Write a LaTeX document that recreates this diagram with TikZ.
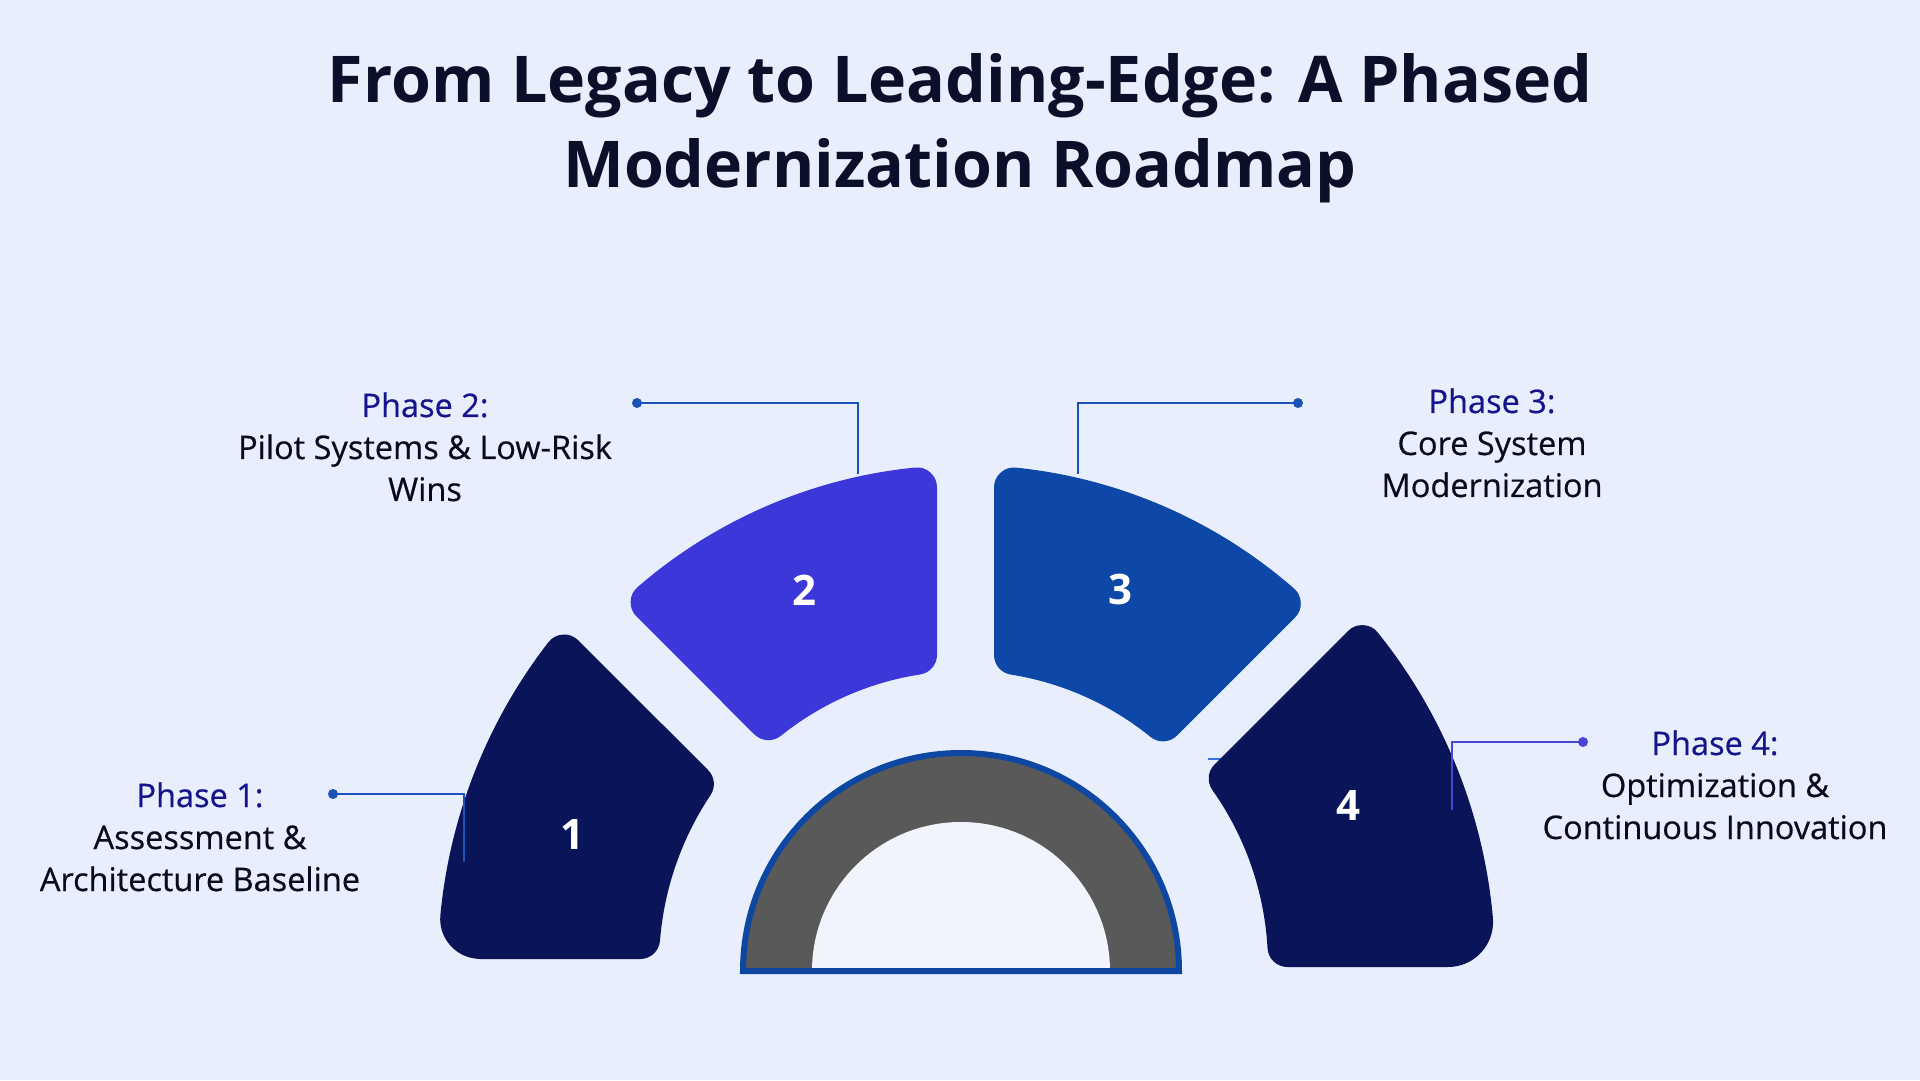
\documentclass[tikz,border=0pt]{standalone}
\usepackage{fontspec}
\setmainfont{Open Sans}
\newfontfamily\phasefont{Open Sans}[FakeBold=0.5]
\usepackage{tikz}
\definecolor{backdrop}{HTML}{E9EEFC}
\definecolor{titleink}{HTML}{0B0F2A}
\definecolor{phaseink}{HTML}{14148C}
\definecolor{bodyink}{HTML}{0A0A1C}
\definecolor{navyseg}{HTML}{0A1459}
\definecolor{violetseg}{HTML}{3C37D8}
\definecolor{blueseg}{HTML}{0D47A8}
\definecolor{gaugerim}{HTML}{0D47A1}
\definecolor{gaugegrey}{HTML}{595959}
\definecolor{gaugecore}{HTML}{F1F3FD}
\definecolor{linkblue}{HTML}{1A52B8}
\definecolor{linkviolet}{HTML}{4A44D8}
\definecolor{stubblue}{HTML}{3A6FE0}

\begin{document}
\begin{tikzpicture}
    [x=1pt, y=1pt,
    wedge/.style={line width=40pt, line join=round},
    digit/.style={text=white, font=\fontsize{42}{42}\selectfont\bfseries, inner sep=0pt},
    headline/.style={align=center, text=titleink, font=\fontsize{64.5}{85}\selectfont\bfseries,
    inner sep=0pt, anchor=base},
    phase/.style={align=center, text=bodyink, font=\phasefont\fontsize{32.5}{42}\selectfont,
    inner sep=0pt, anchor=base},
    endpoint/.style={circle, inner sep=0pt, minimum size=10pt},
    link/.style={line width=2pt}]
    \useasboundingbox (0,0) rectangle (1920,1080);
    \fill [backdrop] (0,0) rectangle (1920,1080);

    \node [headline] (legacy_title) at (960,892) {From Legacy to Leading-Edge: A Phased\\
    Modernization Roadmap};

    \coordinate (gauge) at (961,109);
    \fill [gaugegrey] (gauge) ++ (-218,0) arc [start angle=180, end angle=0, radius=218] -- cycle;
    \fill [gaugecore] (gauge) ++ (-149,0) arc [start angle=180, end angle=0, radius=149] -- cycle;
    \draw [gaugerim, line width=6pt] (gauge) ++ (-218,0) arc [start angle=180, end angle=0,
    radius=218] -- cycle;

    \coordinate (stub) at (1208,321);
    \coordinate (tip_1) at (464,218);
    \coordinate (tip_2) at (858,606);
    \coordinate (tip_3) at (1078,606);
    \coordinate (tip_4) at (1452,270);

    \begin{scope}[shift={(965,115)}]
        \node [digit] (num_4) at (383,159) {4};
        \draw [stubblue, link] (stub) -- (stub -| num_4);
        \filldraw [wedge, navyseg] (175.43:326) -- (-484.82,26) arc [start angle=270,
        end angle=174.58, radius=20] arc [start angle=174.58, end angle=142.24, radius=507] --
        (146.29:326) arc [start angle=146.29, end angle=175.43, radius=326] -- cycle;
        \filldraw [wedge, violetseg] (98.79:314) -- (95.74:480) arc [start angle=95.74,
        end angle=130.92, radius=480] -- (128.76:314) arc [start angle=128.76, end angle=98.79,
        radius=314] -- cycle;
        \filldraw [wedge, blueseg] (81.02:314) -- (84.14:480) arc [start angle=84.14,
        end angle=48.86, radius=480] -- (50.90:314) arc [start angle=50.90, end angle=81.02,
        radius=314] -- cycle;
        \filldraw [wedge, navyseg] (3.19:323) -- (483.09,18) arc [start angle=-90,
        end angle=5.087, radius=25] arc [start angle=5.087, end angle=38.85, radius=510] --
        (35.26:323) arc [start angle=35.26, end angle=3.19, radius=323] -- cycle;
        \node [digit] (num_1) at (-393,130) {1};
        \node [digit] (num_2) at (-161,375) {2};
        \node [digit] (num_3) at (155,375) {3};
        \node [digit] at (num_4) {4};
    \end{scope}

    \node [endpoint, fill=linkblue] (dot_1) at (333,286) {};
    \node [endpoint, fill=linkblue] (dot_2) at (637,677) {};
    \node [endpoint, fill=linkblue] (dot_3) at (1298,677) {};
    \node [endpoint, fill=linkviolet] (dot_4) at (1583,338) {};
    \draw [link, linkblue] (dot_1.center) -| (tip_1);
    \draw [link, linkblue] (dot_2.center) -| (tip_2);
    \draw [link, linkblue] (dot_3.center) -| (tip_3);
    \draw [link, linkviolet] (dot_4.center) -| (tip_4);

    \node [phase] (phase_1) at (200,189) {\textcolor{phaseink}{Phase 1:}\\Assessment \&\\
    Architecture Baseline};
    \node [phase] (phase_2) at (425,579) {\textcolor{phaseink}{Phase 2:}\\Pilot Systems \&
    Low-Risk\\Wins};
    \node [phase] (phase_3) at (1492,583) {\textcolor{phaseink}{Phase 3:}\\Core System\\
    Modernization};
    \node [phase] (phase_4) at (1715,241) {\textcolor{phaseink}{Phase 4:}\\Optimization \&\\
    Continuous Innovation};
\end{tikzpicture}
\end{document}
